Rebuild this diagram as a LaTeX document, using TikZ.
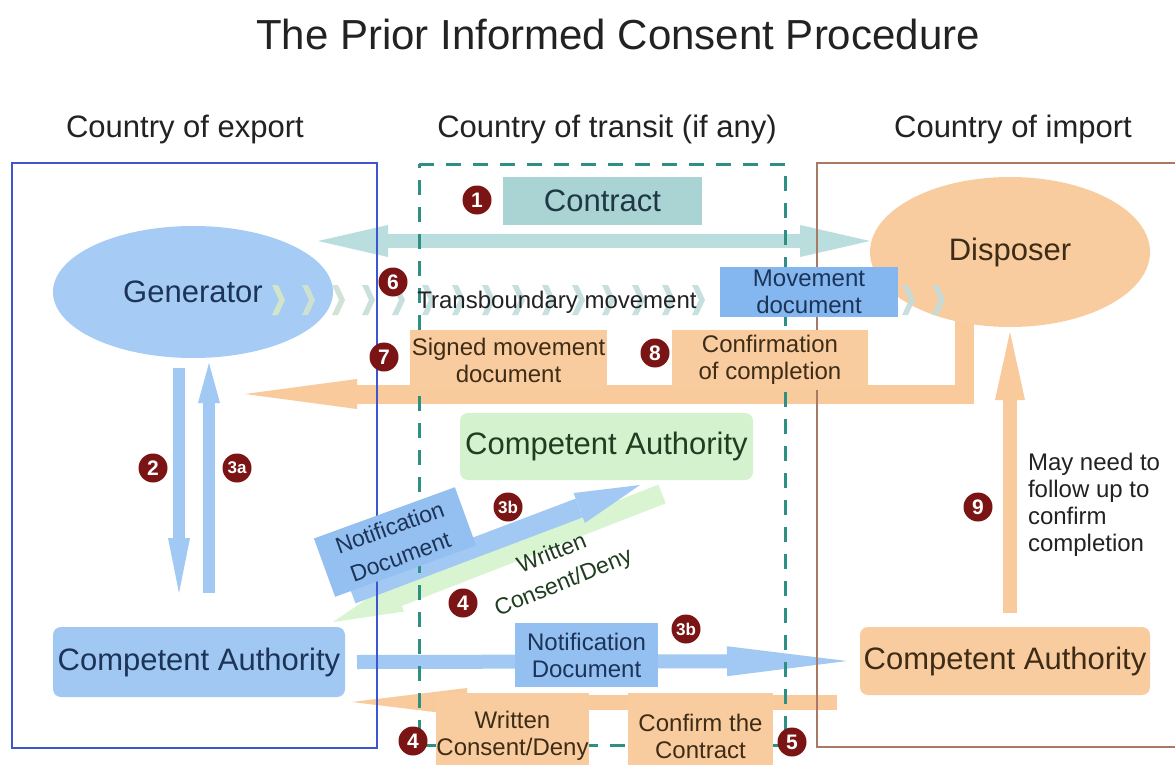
\documentclass[tikz,border=0pt]{standalone}
\usepackage{fontspec}
\setmainfont{Liberation Sans}
\usetikzlibrary{arrows.meta,shapes.geometric}
\pgfdeclarelayer{arrowlayer}
\pgfdeclarelayer{framelayer}
\pgfdeclarelayer{front}
\pgfsetlayers{arrowlayer,framelayer,main,front}
\definecolor{genBlue}{HTML}{A6CCF6}
\definecolor{caBlue}{HTML}{A0C8F3}
\definecolor{movBlue}{HTML}{84B7F0}
\definecolor{noteBlue}{HTML}{94BFF1}
\definecolor{arrBlue}{HTML}{A2C9F3}
\definecolor{oraFill}{HTML}{F9CC9F}
\definecolor{arrOr}{HTML}{F8CA9C}
\definecolor{tealBox}{HTML}{AAD3D3}
\definecolor{tealArr}{HTML}{BADEDE}
\definecolor{greenBox}{HTML}{D3F2CD}
\definecolor{greenArr}{HTML}{D8F4D0}
\definecolor{numRed}{HTML}{7B1414}
\definecolor{frameBlue}{HTML}{3F55D0}
\definecolor{frameBrown}{HTML}{A87A66}
\definecolor{dashTeal}{HTML}{2E8F84}
\definecolor{navyTxt}{HTML}{1C3458}
\definecolor{brownTxt}{HTML}{3E2C16}
\definecolor{greenTxt}{HTML}{1F3D1F}
\definecolor{tealTxt}{HTML}{1E3846}
\definecolor{darkTxt}{HTML}{222222}
\definecolor{chevA}{HTML}{D8E8C4}
\definecolor{chevB}{HTML}{C2DCDC}
\begin{document}
\begin{tikzpicture}[x=1pt,y=-1pt,
  every node/.style={inner sep=0pt, outer sep=0pt},
  big/.style={font=\fontsize{31}{34}\selectfont},
  small/.style={font=\fontsize{24}{27}\selectfont, align=center},
  smallwide/.style={font=\fontsize{23}{31}\selectfont, align=center},
  num/.style={circle, fill=numRed, text=white, minimum size=29pt, font=\fontsize{21}{21}\selectfont\bfseries},
  numsm/.style={circle, fill=numRed, text=white, minimum size=29pt, font=\fontsize{17}{17}\selectfont\bfseries},
  blockarrow/.style={line cap=butt, line join=miter},
  framebox/.style={line width=2.5pt},
  chev/.style={fill=#1, opacity=0.9}
]
\useasboundingbox (0,0) rectangle (1175,765);

% ---------- nodes ----------
\node[anchor=base, font=\fontsize{42}{46}\selectfont, text=darkTxt] (title) at (618,50) {The Prior Informed Consent Procedure};
\node[anchor=base, big, text=darkTxt] (hExp) at (185,138) {Country of export};
\node[anchor=base, big, text=darkTxt] (hTr) at (607,138) {Country of transit (if any)};
\node[anchor=base, big, text=darkTxt] (hImp) at (1013,138) {Country of import};

\node[ellipse, fill=genBlue, minimum width=280pt, minimum height=132pt, big, text=navyTxt] (gen) at (193,292) {Generator};
\node[ellipse, fill=oraFill, minimum width=280pt, minimum height=150pt, big, text=brownTxt] (disp) at (1010,252) {Disposer};

\node[rectangle, fill=tealBox, minimum width=199pt, minimum height=48pt, big, text=tealTxt] (contract) at (602.5,201) {Contract};

\node[rectangle, rounded corners=8pt, fill=caBlue, minimum width=292pt, minimum height=70pt, big, text=navyTxt] (caL) at (199,662) {Competent Authority};
\node[rectangle, rounded corners=8pt, fill=greenBox, minimum width=293pt, minimum height=67pt, big, text=greenTxt] (caT) at (606.5,446.5) {Competent Authority};
\node[rectangle, rounded corners=8pt, fill=oraFill, minimum width=290pt, minimum height=68pt, big, text=brownTxt] (caR) at (1005,661) {Competent Authority};

% chevrons of the transboundary movement
\foreach \i in {0,...,22} {
  \pgfmathsetmacro\cx{272+30*\i}
  \pgfmathsetmacro\mix{max(0,100-\i*30)}
  \fill[chev=chevA!\mix!chevB] (\cx,285) -- (\cx+6,285) -- (\cx+13,300) -- (\cx+6,315) -- (\cx,315) -- (\cx+7,300) -- cycle;
}
\node[small, text=darkTxt] (tbm) at (557,302) {Transboundary movement};

\node[rectangle, fill=movBlue, minimum width=178pt, minimum height=50pt, small, text=navyTxt] (movdoc) at (809,292) {Movement\\document};
\node[rectangle, fill=oraFill, minimum width=197pt, minimum height=60pt, small, text=brownTxt] (signed) at (508.5,360) {Signed movement\\document};
\node[rectangle, fill=oraFill, minimum width=196pt, minimum height=60pt, small, text=brownTxt] (confc) at (770,360) {Confirmation\\of completion};

\node[rectangle, rotate=20, fill=noteBlue, minimum width=150pt, minimum height=62pt, smallwide, text=navyTxt] (ndiag) at (395,542) {Notification\\Document};
\node[rotate=22, smallwide, text=greenTxt] (wcdDiag) at (558,569) {Written\\Consent/Deny};

\node[rectangle, fill=noteBlue, minimum width=143pt, minimum height=64pt, small, text=navyTxt] (nhor) at (586.5,655) {Notification\\Document};
\node[rectangle, fill=oraFill, minimum width=145pt, minimum height=86pt, small, text=brownTxt] (wcdBot) at (512.5,736) {Written\\Consent/Deny};
\node[rectangle, fill=oraFill, minimum width=145pt, minimum height=86pt, small, text=brownTxt] (cfc) at (700.5,736) {Confirm the\\Contract};

\node[anchor=west, small, align=left, text=darkTxt] (follow) at (1028,505) {May need to\\follow up to\\confirm\\completion};

% numbers
\node[num] (n1) at (477,200) {1};
\node[num] (n6) at (393,282) {6};
\node[num] (n7) at (384,357) {7};
\node[num] (n8) at (655,353) {8};
\node[num] (n2) at (153,468) {2};
\node[numsm] (n3a) at (237,468) {3a};
\node[numsm] (n3bd) at (508,507) {3b};
\node[num] (n4d) at (463,603) {4};
\node[numsm] (n3bh) at (686,629) {3b};
\node[num] (n4b) at (413,741) {4};
\node[num] (n5) at (792,742) {5};
\node[num] (n9) at (978,507) {9};

% ---------- coordinates for free arrow ends ----------
\coordinate (cL) at (318,241);
\coordinate (o78a) at (964,315);
\coordinate (o78b) at (245,394);
\coordinate (a2s) at (179,368);
\coordinate (a2e) at (179,593);
\coordinate (a3s) at (209,593);
\coordinate (a3e) at (209,363);
\coordinate (gdS) at (662,494);
\coordinate (gdE) at (333,622);
\coordinate (bdS) at (352,594);
\coordinate (bdE) at (640,485);
\coordinate (obS) at (837,702);
\coordinate (obE) at (352,702);
\coordinate (a9s) at (1010,613);

% ---------- arrows ----------
\begin{pgfonlayer}{arrowlayer}
\fill[white] (0,0) rectangle (1175,765);
\draw[blockarrow, line width=14pt, draw=tealArr, {Triangle[length=70pt,width=32pt,line width=0pt]}-{Triangle[length=70pt,width=32pt,line width=0pt]}] (cL) -- (disp.west |- cL);
\draw[blockarrow, line width=19pt, draw=arrOr, -{Triangle[length=112pt,width=30pt,line width=0pt]}] (o78a) |- (o78b);
\draw[blockarrow, line width=12pt, draw=arrBlue, -{Triangle[length=55pt,width=22pt,line width=0pt]}] (a2s) -- (a2e);
\draw[blockarrow, line width=12pt, draw=arrBlue, -{Triangle[length=40pt,width=22pt,line width=0pt]}] (a3s) -- (a3e);
\draw[blockarrow, line width=20pt, draw=greenArr, -{Triangle[length=70pt,width=32pt,line width=0pt]}] (gdS) -- (gdE);
\draw[blockarrow, line width=20pt, draw=arrBlue, -{Triangle[length=65pt,width=32pt,line width=0pt]}] (bdS) -- (bdE);
\draw[blockarrow, line width=14pt, draw=arrBlue, -{Triangle[length=120pt,width=30pt,line width=0pt]}] ([xshift=12pt]caL.east) -- ([xshift=-13pt]caR.west);
\draw[blockarrow, line width=15pt, draw=arrOr, -{Triangle[length=115pt,width=28pt,line width=0pt]}] (obS) -- (obE);
\draw[blockarrow, line width=14pt, draw=arrOr, -{Triangle[length=68pt,width=30pt,line width=0pt]}] (a9s) -- ([yshift=-5pt]disp.south);
\end{pgfonlayer}

% ---------- frames ----------
\begin{pgfonlayer}{framelayer}
\draw[framebox, draw=frameBlue] (12,163) rectangle (377,748);
\draw[framebox, draw=frameBrown] (1180,163) -- (817,163) -- (817,747) -- (1180,747);
\draw[line width=3pt, draw=dashTeal, dash pattern=on 15pt off 12pt] (419,164) -- (785,164) -- (785,745) -- (419,745) -- cycle;
\end{pgfonlayer}
\end{tikzpicture}
\end{document}
